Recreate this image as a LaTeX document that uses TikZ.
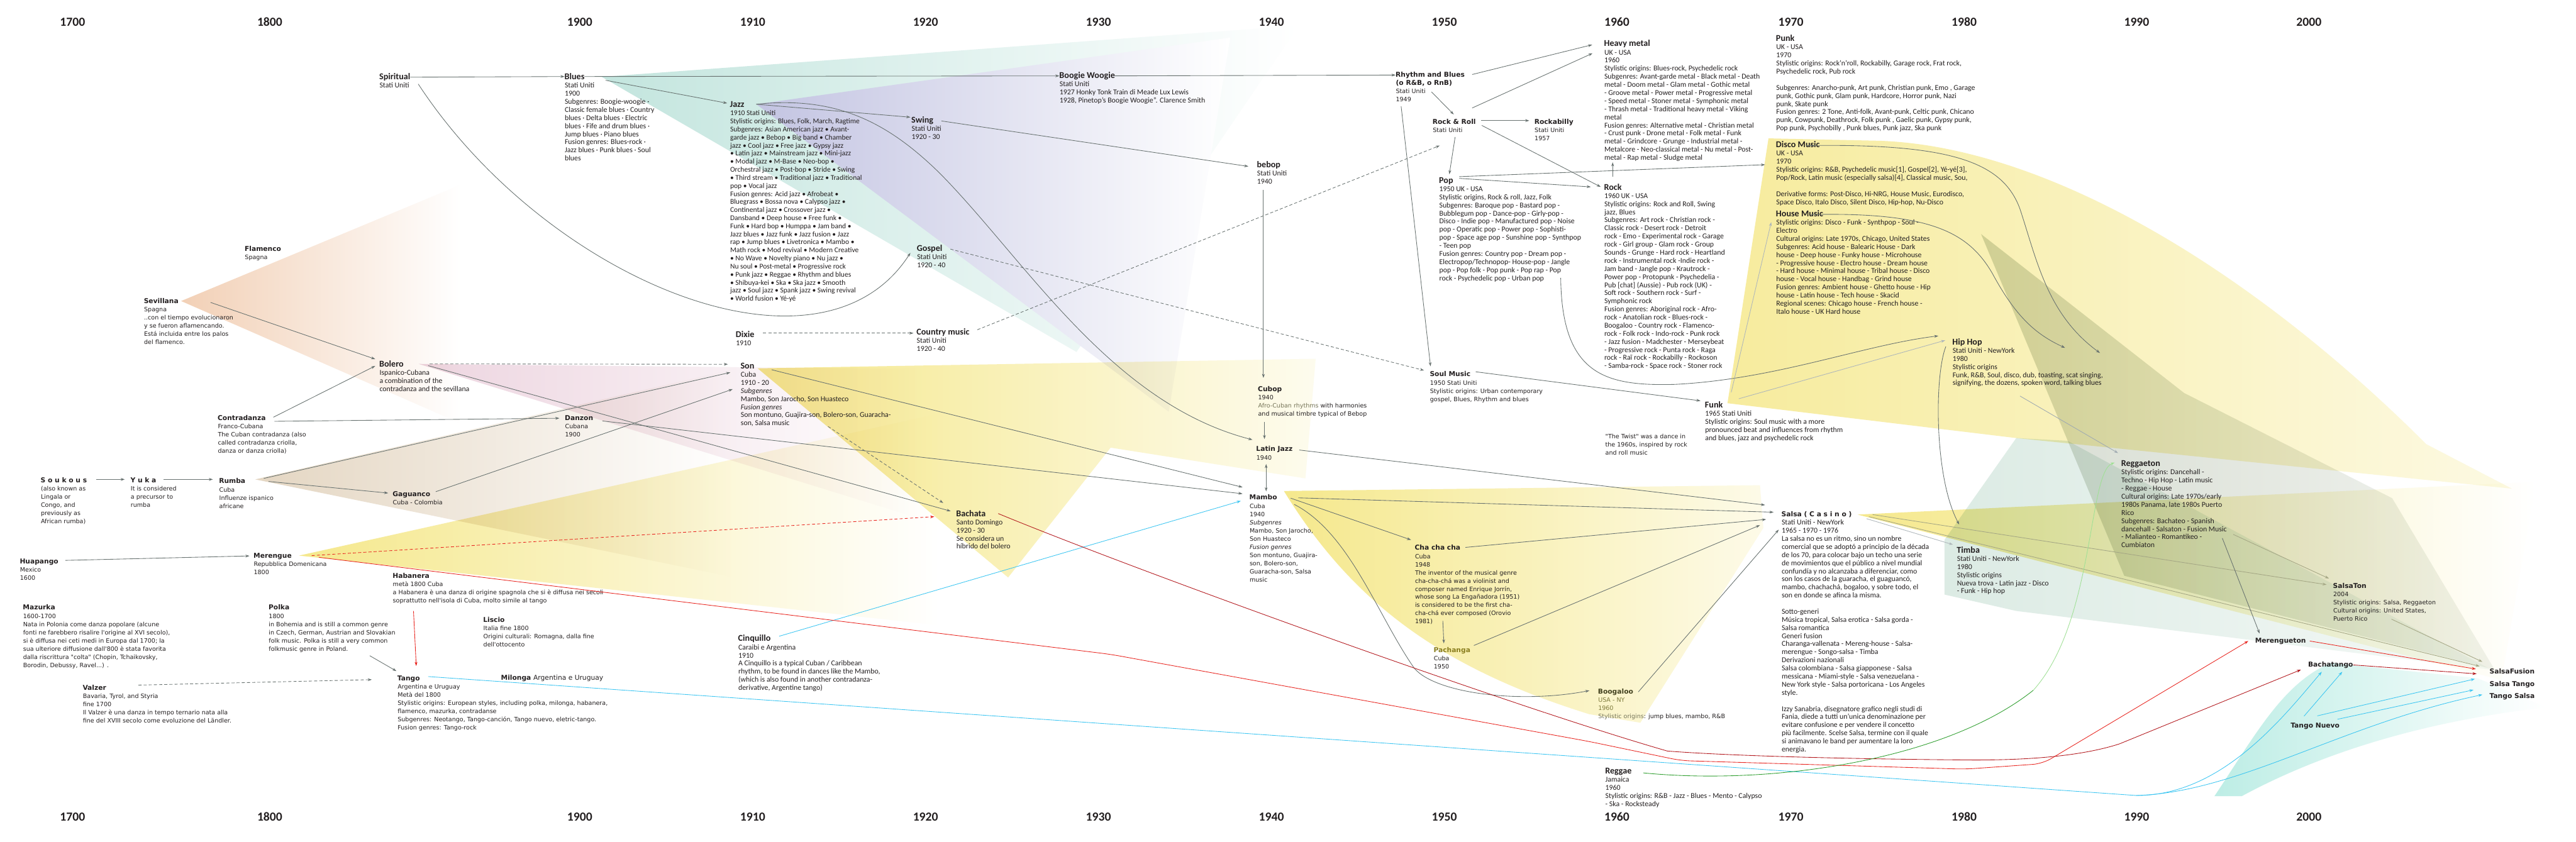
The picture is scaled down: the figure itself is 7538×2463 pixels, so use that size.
\documentclass[tikz,border=0pt]{standalone}
\usepackage{fontspec}
\setmainfont{Carlito}
\newfontfamily\widefam{DejaVu Sans}
\usetikzlibrary{arrows.meta}
\definecolor{txt}{HTML}{231F20}
\definecolor{cline}{HTML}{67716F}
\definecolor{redc}{HTML}{E8241E}
\definecolor{dredc}{HTML}{B2151A}
\definecolor{cyanc}{HTML}{3CC6F2}
\definecolor{greenc}{HTML}{2E9E2E}
\definecolor{lgreenc}{HTML}{9FE095}
\definecolor{olivel}{HTML}{A4A684}
\definecolor{bluegc}{HTML}{9FAAB1}
\definecolor{lgrayc}{HTML}{AEB6BA}
\definecolor{oliveT}{HTML}{8A7E1E}
\definecolor{oliveD}{HTML}{43421F}
\definecolor{oliveM}{HTML}{7E7A3C}
\definecolor{cubopc}{HTML}{77765A}
\definecolor{peachc}{HTML}{F2D0B6}
\definecolor{tealc}{HTML}{C3E5DE}
\definecolor{purpc}{HTML}{C3C4E2}
\definecolor{pinkc}{HTML}{EDD5E0}
\definecolor{tanc}{HTML}{E4D6C2}
\definecolor{yelc}{HTML}{F5E88C}
\definecolor{wedgec}{HTML}{D6DCD1}
\definecolor{timbac}{HTML}{DCEBE4}
\definecolor{tealb}{HTML}{BDEDE5}
\newcommand\gR{\fontsize{6.2}{6.74}\selectfont}
\newcommand\gJ{\fontsize{6.05}{6.71}\selectfont}
\newcommand\gT{\fontsize{7.4}{6.74}\selectfont\bfseries}
\newcommand\wR{\widefam\fontsize{5}{6.79}\selectfont}
\newcommand\wT{\widefam\fontsize{5.6}{6.79}\selectfont\bfseries}
\newcommand\yrF{\fontsize{10.3}{12}\selectfont\bfseries}
\begin{document}
\begin{tikzpicture}[x=0.01cm,y=-0.01cm,
 gt/.style={anchor=base west,inner sep=0pt,outer sep=0pt,text=txt,font=\gT},
 wt/.style={anchor=base west,inner sep=0pt,outer sep=0pt,text=txt,font=\wT},
 gb/.style={anchor=north west,inner sep=0pt,align=left,text=txt,font=\gR},
 wb/.style={anchor=north west,inner sep=0pt,align=left,text=txt,font=\wR},
 yr/.style={anchor=base west,inner sep=0pt,text=txt,font=\yrF},
 ln/.style={draw=cline,line width=0.45pt},
 arr/.style={ln,-{Stealth[length=3.4pt,width=2.3pt]}},
 dsh/.style={dash pattern=on 2.6pt off 1.7pt},
 redl/.style={draw=redc},
 dredl/.style={draw=dredc},
 cyanl/.style={draw=cyanc},
 olivell/.style={draw=olivel},
 bgl/.style={draw=bluegc},
 lgl/.style={draw=lgrayc},
 fan/.style={blend mode=multiply}]
\useasboundingbox (0,0) rectangle (7538,2463);
\fill[white] (0,0) rectangle (7538,2463);

% ---------------- fans ----------------
\shade[fan,left color=peachc,right color=white] (530,881) -- (1350,540) -- (1350,1240) -- cycle;
\shade[fan,left color=tealc,right color=white] (1761,225) -- (3800,75) -- (3150,1030) -- cycle;
\shade[left color=purpc,right color=white] (2213,305) -- (3600,110) -- (3420,1205) -- cycle;
\shade[fan,left color=tanc,right color=white] (747,1403) -- (2150,1080) -- (2150,1690) -- cycle;
\shade[fan,left color=pinkc,right color=white] (1225,1065) -- (2700,1080) -- (2700,1520) -- cycle;
\shade[fan,left color=yelc,right color=white] (875,1626) -- (2750,1210) -- (2750,1830) -- cycle;
\shade[fan,left color=yelc,right color=yelc!15] (2217,1078) -- (3850,1050) -- (3820,1400) -- (3250,1310) -- (2950,1690) -- cycle;
\shade[fan,left color=yelc,right color=yelc!20] (3757,1437) -- (5150,1420) -- (5160,1545) -- (4800,2115) -- (4650,2090) .. controls (4200,1950) and (3950,1750) .. (3757,1437) -- cycle;
\shade[fan,left color=yelc!85,right color=yelc!25] (5055,1180) -- (5175,405) -- (5500,412) .. controls (6000,430) and (6600,800) .. (7100,1300) -- (7350,1430) -- (5900,1282) -- cycle;
\shade[fan,left color=timbac,right color=timbac!30] (5690,1580) -- (5900,1282) -- (6050,1290) -- (7290,1960) -- (5900,1788) -- (5690,1740) -- cycle;
\shade[fan,left color=wedgec,right color=wedgec!35] (5797,685) -- (6391,1150) -- (7000,1458) -- (7300,1960) -- (6216,1685) -- (6013,1200) -- cycle;
\shade[fan,left color=yelc,right color=white] (5436,1506) -- (7420,1410) -- (7320,1990) -- cycle;
\shade[fan,left color=tealb,right color=white] (6480,2330) .. controls (6600,2150) and (6680,2000) .. (6820,1940) -- (7250,1985) -- (7450,2070) .. controls (7100,2110) and (6800,2200) .. (6560,2330) -- cycle;

% ---------------- years ----------------
\foreach \yy/\xx in {1700/175,1800/752,1900/1659,1910/2165,1920/2671,1930/3177,1940/3683,1950/4189,1960/4694,1970/5203,1980/5710,1990/6215,2000/6719}{
 \node[yr] (top\yy) at (\xx,76) {\yy};
 \node[yr] (bot\yy) at (\xx,2402) {\yy};
}

% ---------------- titles & bodies ----------------
\node[gt] (spiritual) at (1110,233) {Spiritual};
\node[gb] (spiritualB) at (1110,240) {\strut Stati Uniti};
\node[gt] (blues) at (1652,233) {Blues};
\node[gb] (bluesB) at (1652,240) {\strut Stati Uniti\\1900\\Subgenres: Boogie-woogie ·\\Classic female blues · Country\\blues · Delta blues · Electric\\blues · Fife and drum blues ·\\Jump blues · Piano blues\\Fusion genres: Blues-rock ·\\Jazz blues · Punk blues · Soul\\blues};
\node[gt] (boogie) at (3100,229) {Boogie Woogie};
\node[gb] (boogieB) at (3100,236) {\strut Stati Uniti\\1927 Honky Tonk Train di Meade Lux Lewis\\1928, Pinetop’s Boogie Woogie”. Clarence Smith};
\node[gt] (jazz) at (2136,314) {Jazz};
\node[gb,font=\gJ] (jazzB) at (2136,321) {\strut 1910 Stati Uniti\\Stylistic origins: Blues, Folk, March, Ragtime\\Subgenres: Asian American jazz • Avant-\\garde jazz • Bebop • Big band • Chamber\\jazz • Cool jazz • Free jazz • Gypsy jazz\\• Latin jazz • Mainstream jazz • Mini-jazz\\• Modal jazz • M-Base • Neo-bop •\\Orchestral jazz • Post-bop • Stride • Swing\\• Third stream • Traditional jazz • Traditional\\pop • Vocal jazz\\Fusion genres: Acid jazz • Afrobeat •\\Bluegrass • Bossa nova • Calypso jazz •\\Continental jazz • Crossover jazz •\\Dansband • Deep house • Free funk •\\Funk • Hard bop • Humppa • Jam band •\\Jazz blues • Jazz funk • Jazz fusion • Jazz\\rap • Jump blues • Livetronica • Mambo •\\Math rock • Mod revival • Modern Creative\\• No Wave • Novelty piano • Nu jazz •\\Nu soul • Post-metal • Progressive rock\\• Punk jazz • Reggae • Rhythm and blues\\• Shibuya-kei • Ska • Ska jazz • Smooth\\jazz • Soul jazz • Spank jazz • Swing revival\\• World fusion • Yé-yé};
\node[gt] (swing) at (2667,359) {Swing};
\node[gb] (swingB) at (2667,366) {\strut Stati Uniti\\1920 - 30};
\node[gt] (gospel) at (2683,735) {Gospel};
\node[gb] (gospelB) at (2683,742) {\strut Stati Uniti\\1920 - 40};
\node[gt] (dixie) at (2153,987) {Dixie};
\node[gb] (dixieB) at (2153,994) {\strut 1910};
\node[gt] (country) at (2682,980) {Country music};
\node[gb] (countryB) at (2682,987) {\strut Stati Uniti\\1920 - 40};
\node[gt] (son) at (2167,1079) {Son};
\node[gb] (sonB) at (2167,1086) {\strut Cuba\\1910 - 20\\\textit{Subgenres}\\Mambo, Son Jarocho, Son Huasteco\\\textit{Fusion genres}\\Son montuno, Guajira-son, Bolero-son, Guaracha-\\son, Salsa music};
\node[gt] (bebop) at (3678,490) {bebop};
\node[gb] (bebopB) at (3678,497) {\strut Stati Uniti\\1940};

\node[wt] (flamenco) at (716,735) {Flamenco};
\node[wb] (flamencoB) at (716,742) {\strut Spagna};
\node[wt] (sevillana) at (421,888) {Sevillana};
\node[wb] (sevillanaB) at (421,895) {\strut Spagna\\..con el tiempo evolucionaron\\y se fueron aflamencando.\\Está incluida entre los palos\\del flamenco.};
\node[wt] (contradanza) at (637,1230) {Contradanza};
\node[wb] (contradanzaB) at (637,1237) {\strut Franco-Cubana\\The Cuban contradanza (also\\called contradanza criolla,\\danza or danza criolla)};
\node[gt] (bolero) at (1110,1073) {Bolero};
\node[gb] (boleroB) at (1110,1080) {\strut Ispanico-Cubana\\a combination of the\\contradanza and the sevillana};
\node[wt] (soukous) at (119,1412) {S o u k o u s};
\node[wb] (soukousB) at (119,1419) {\strut (also known as\\Lingala or\\Congo, and\\previously as\\African rumba)};
\node[wt] (yuka) at (382,1412) {Y u k a};
\node[wb] (yukaB) at (382,1419) {\strut It is considered\\a precursor to\\rumba};
\node[wt] (rumba) at (641,1415) {Rumba};
\node[wb] (rumbaB) at (641,1422) {\strut Cuba\\Influenze ispanico\\africane};
\node[wt] (huapango) at (58,1650) {Huapango};
\node[wb] (huapangoB) at (58,1657) {\strut Mexico\\1600};
\node[wt] (merengue) at (742,1633) {Merengue};
\node[wb] (merengueB) at (742,1640) {\strut Repubblica Domenicana\\1800};
\node[wt] (mazurka) at (67,1785) {Mazurka};
\node[wb] (mazurkaB) at (67,1792) {\strut 1600-1700\\Nata in Polonia come danza popolare (alcune\\fonti ne farebbero risalire l'origine al XVI secolo),\\si è diffusa nei ceti medi in Europa dal 1700; la\\sua ulteriore diffusione dall'800 è stata favorita\\dalla riscrittura "colta" (Chopin, Tchaikovsky,\\Borodin, Debussy, Ravel...) .};
\node[wt] (polka) at (786,1785) {Polka};
\node[wb] (polkaB) at (786,1792) {\strut 1800\\in Bohemia and is still a common genre\\in Czech, German, Austrian and Slovakian\\folk music. Polka is still a very common\\folkmusic genre in Poland.};
\node[wt] (valzer) at (242,2020) {Valzer};
\node[wb] (valzerB) at (242,2027) {\strut Bavaria, Tyrol, and Styria\\fine 1700\\Il Valzer è una danza in tempo ternario nata alla\\fine del XVIII secolo come evoluzione del Ländler.};
\node[wt] (danzon) at (1653,1230) {Danzon};
\node[wb] (danzonB) at (1653,1237) {\strut Cubana\\1900};
\node[wt] (gaguanco) at (1149,1452) {Gaguanco};
\node[wb] (gaguancoB) at (1149,1459) {\strut Cuba - Colombia};
\node[wt] (habanera) at (1149,1692) {Habanera};
\node[wb] (habaneraB) at (1149,1699) {\strut metà 1800 Cuba\\a Habanera è una danza di origine spagnola che si è diffusa nei secoli\\soprattutto nell'isola di Cuba, molto simile al tango};
\node[wt] (liscio) at (1414,1821) {Liscio};
\node[wb] (liscioB) at (1414,1828) {\strut Italia fine 1800\\Origini culturali: Romagna, dalla fine\\dell'ottocento};
\node[wt] (tango) at (1163,1992) {Tango};
\node[wb] (tangoB) at (1163,1999) {\strut Argentina e Uruguay\\Metà del 1800\\Stylistic origins: European styles, including polka, milonga, habanera,\\flamenco, mazurka, contradanse\\Subgenres: Neotango,  Tango-canción, Tango nuevo, eletric-tango.\\Fusion genres: Tango-rock};
\node[wt] (milonga) at (1466,1991) {Milonga {\mdseries Argentina e Uruguay}};
\node[gt] (bachata) at (2798,1511) {Bachata};
\node[gb] (bachataB) at (2798,1518) {\strut Santo Domingo\\1920 - 30\\Se considera un\\híbrido del bolero};
\node[gt] (cinquillo) at (2160,1877) {Cinquillo};
\node[gb] (cinquilloB) at (2160,1884) {\strut Caraibi e Argentina\\1910\\A Cinquillo is a typical Cuban / Caribbean\\rhythm, to be found in dances like the Mambo,\\(which is also found in another contradanza-\\derivative, Argentine tango)};
\node[wt] (cubop) at (3681,1146) {Cubop};
\node[wb] (cubopB) at (3681,1153) {\strut 1940\\\textcolor{cubopc}{Afro-Cuban rhythms} with harmonies\\and musical timbre typical of Bebop};
\node[wt] (latinjazz) at (3676,1321) {Latin Jazz};
\node[wb] (latinjazzB) at (3676,1328) {\strut 1940};
\node[wt] (mambo) at (3656,1463) {Mambo};
\node[wb] (mamboB) at (3656,1470) {\strut Cuba\\1940\\\textit{Subgenres}\\Mambo, Son Jarocho,\\Son Huasteco\\\textit{Fusion genres}\\Son montuno, Guajira-\\son, Bolero-son,\\Guaracha-son, Salsa\\music};
\node[wt] (chacha) at (4140,1610) {Cha cha cha};
\node[wb] (chachaB) at (4140,1617) {\strut Cuba\\1948\\The inventor of the musical genre\\cha-cha-chá was a violinist and\\composer named Enrique Jorrín,\\whose song La Engañadora (1951)\\is considered to be the first cha-\\cha-chá ever composed (Orovio\\1981)};
\node[wt,text=oliveT] (pachanga) at (4195,1909) {Pachanga};
\node[wb] (pachangaB) at (4195,1916) {\strut Cuba\\1950};
\node[wt] (soul) at (4184,1102) {Soul Music};
\node[wb] (soulB) at (4184,1109) {\strut 1950 Stati Uniti\\Stylistic origins: Urban contemporary\\gospel, Blues, Rhythm and blues};
\node[wt] (rnb) at (4084,225) {Rhythm and Blues};
\node[wb] (rnbB) at (4084,232) {\strut{\wT (o R\&B, o RnB)}\\Stati Uniti\\1949};
\node[wt] (rockroll) at (4192,363) {Rock \& Roll};
\node[wb] (rockrollB) at (4192,370) {\strut Stati Uniti};
\node[wt] (rockabilly) at (4490,363) {Rockabilly};
\node[wb] (rockabillyB) at (4490,370) {\strut Stati Uniti\\1957};
\node[gt] (pop) at (4211,536) {Pop};
\node[gb] (popB) at (4211,543) {\strut 1950 UK - USA\\Stylistic origins, Rock \& roll, Jazz, Folk\\Subgenres: Baroque pop - Bastard pop -\\Bubblegum pop - Dance-pop - Girly-pop -\\Disco - Indie pop - Manufactured pop - Noise\\pop - Operatic pop - Power pop - Sophisti-\\pop - Space age pop - Sunshine pop - Synthpop\\- Teen pop\\Fusion genres: Country pop - Dream pop -\\Electropop/Technopop- House-pop - Jangle\\pop - Pop folk - Pop punk - Pop rap - Pop\\rock - Psychedelic pop - Urban pop};
\node[gt] (heavymetal) at (4694,136) {Heavy metal};
\node[gb] (heavymetalB) at (4694,143) {\strut UK - USA\\1960\\Stylistic origins: Blues-rock, Psychedelic rock\\Subgenres: Avant-garde metal - Black metal - Death\\metal - Doom metal - Glam metal - Gothic metal\\- Groove metal - Power metal - Progressive metal\\- Speed metal - Stoner metal - Symphonic metal\\- Thrash metal - Traditional heavy metal - Viking\\metal\\Fusion genres:  Alternative metal - Christian metal\\- Crust punk - Drone metal - Folk metal - Funk\\metal - Grindcore - Grunge - Industrial metal -\\Metalcore - Neo-classical metal - Nu metal - Post-\\metal - Rap metal - Sludge metal};
\node[gt] (rock) at (4694,556) {Rock};
\node[gb] (rockB) at (4694,563) {\strut 1960 UK - USA\\Stylistic origins: Rock and Roll, Swing\\jazz, Blues\\Subgenres: Art rock - Christian rock -\\Classic rock - Desert rock - Detroit\\rock - Emo - Experimental rock - Garage\\rock - Girl group - Glam rock - Group\\Sounds - Grunge - Hard rock - Heartland\\rock - Instrumental rock -Indie rock -\\Jam band - Jangle pop - Krautrock -\\Power pop - Protopunk - Psychedelia -\\Pub [chat] (Aussie) - Pub rock (UK) -\\Soft rock - Southern rock - Surf -\\Symphonic rock\\Fusion genres: Aboriginal rock - Afro-\\rock - Anatolian rock - Blues-rock -\\Boogaloo - Country rock - Flamenco-\\rock - Folk rock - Indo-rock - Punk rock\\- Jazz fusion - Madchester - Merseybeat\\- Progressive rock - Punta rock - Raga\\rock - Raï rock - Rockabilly - Rockoson\\- Samba-rock - Space rock - Stoner rock};
\node[gt] (funk) at (4989,1193) {Funk};
\node[gb] (funkB) at (4989,1200) {\strut 1965 Stati Uniti\\Stylistic origins: Soul music with a more\\pronounced beat and influences from rhythm\\and blues, jazz and psychedelic rock};
\node[wb] (twist) at (4697,1267) {\strut "The Twist" was a dance in\\the 1960s, inspired by rock\\and roll music};
\node[wt] (salsa) at (5213,1512) {Salsa ( C a s i n o )};
\node[gb] (salsaB) at (5213,1519) {\strut Stati Uniti - NewYork\\1965 - 1970 - 1976\\La salsa no es un ritmo, sino un nombre\\comercial que se adoptó a principio de la década\\de los 70, para colocar bajo un techo una serie\\de movimientos que el público a nivel mundial\\confundía y no alcanzaba a diferenciar, como\\son los casos de la guaracha, el guaguancó,\\mambo, chachachá, bogaloo, y sobre todo, el\\son en donde se afinca la misma.\\ \strut\\Sotto-generi\\Música tropical, Salsa erotica - Salsa gorda -\\Salsa romantica\\Generi fusion\\Charanga-vallenata - Mereng-house - Salsa-\\merengue - Songo-salsa - Timba\\Derivazioni nazionali\\Salsa colombiana - Salsa giapponese - Salsa\\messicana - Miami-style - Salsa venezuelana -\\New York style - Salsa portoricana - Los Angeles\\style.\\ \strut\\Izzy Sanabria, disegnatore grafico negli studi di\\Fania, diede a tutti un'unica denominazione per\\evitare confusione e per vendere il concetto\\più facilmente. Scelse Salsa, termine con il quale\\si animavano le band per aumentare la loro\\energia.};
\node[gt] (timba) at (5726,1618) {Timba};
\node[gb] (timbaB) at (5726,1625) {\strut Stati Uniti - NewYork\\1980\\Stylistic origins\\Nueva trova - Latin jazz - Disco\\- Funk - Hip hop};
\node[wt,text=oliveD] (boogaloo) at (4676,2031) {Boogaloo};
\node[wb] (boogalooB) at (4676,2038) {\strut\textcolor{oliveM}{USA - NY}\\\textcolor{oliveM}{1960}\\\textcolor{cubopc}{Stylistic origins}: jump blues, mambo, R\&B};
\node[gt] (reggae) at (4697,2265) {Reggae};
\node[gb] (reggaeB) at (4697,2272) {\strut Jamaica\\1960\\Stylistic origins: R\&B - Jazz - Blues - Mento - Calypso\\- Ska - Rocksteady};
\node[gt] (punk) at (5197,121) {Punk};
\node[gb] (punkB) at (5197,128) {\strut UK - USA\\1970\\Stylistic origins: Rock'n'roll, Rockabilly, Garage rock, Frat rock,\\Psychedelic rock, Pub rock\\ \strut\\Subgenres: Anarcho-punk, Art punk, Christian punk, Emo , Garage\\punk, Gothic punk, Glam punk, Hardcore, Horror punk, Nazi\\punk, Skate punk\\Fusion genres: 2 Tone, Anti-folk, Avant-punk, Celtic punk, Chicano\\punk, Cowpunk, Deathrock, Folk punk , Gaelic punk, Gypsy punk,\\Pop punk, Psychobilly , Punk blues, Punk jazz, Ska punk};
\node[gt] (disco) at (5197,432) {Disco Music};
\node[gb] (discoB) at (5197,439) {\strut UK - USA\\1970\\Stylistic origins: R\&B, Psychedelic music[1], Gospel[2], Yé-yé[3],\\Pop/Rock, Latin music (especially salsa)[4], Classical music, Sou,\\ \strut\\Derivative forms: Post-Disco, Hi-NRG, House Music, Eurodisco,\\Space Disco, Italo Disco, Silent Disco, Hip-hop, Nu-Disco};
\node[gt] (house) at (5197,634) {House Music};
\node[gb] (houseB) at (5197,641) {\strut Stylistic origins: Disco - Funk - Synthpop - Soul -\\Electro\\Cultural origins: Late 1970s, Chicago, United States\\Subgenres: Acid house - Balearic House - Dark\\house - Deep house - Funky house - Microhouse\\- Progressive house - Electro house - Dream house\\- Hard house - Minimal house - Tribal house - Disco\\house - Vocal house - Handbag - Grind house\\Fusion genres: Ambient house - Ghetto house - Hip\\house - Latin house - Tech house - Skacid\\Regional scenes: Chicago house - French house -\\Italo house - UK Hard house};
\node[gt] (hiphop) at (5713,1009) {Hip Hop};
\node[gb] (hiphopB) at (5713,1016) {\strut Stati Uniti - NewYork\\1980\\Stylistic origins\\Funk, R\&B, Soul, disco, dub, toasting, scat singing,\\signifying, the dozens, spoken word, talking blues};
\node[gt] (reggaeton) at (6207,1365) {Reggaeton};
\node[gb] (reggaetonB) at (6207,1372) {\strut Stylistic origins:  Dancehall -\\Techno - Hip Hop - Latin music\\- Reggae - House\\Cultural origins: Late 1970s/early\\1980s Panama, late 1980s Puerto\\Rico\\Subgenres:  Bachateo - Spanish\\dancehall - Salsaton - Fusion Music\\- Malianteo - Romantikeo -\\Cumbiaton};
\node[wt] (salsaton) at (6827,1722) {SalsaTon};
\node[wb] (salsatonB) at (6827,1729) {\strut 2004\\Stylistic origins: Salsa, Reggaeton\\Cultural origins:  United States,\\Puerto Rico};
\node[wt] (merengueton) at (6599,1882) {Merengueton};
\node[wt] (bachatango) at (6754,1951) {Bachatango};
\node[wt] (tangonuevo) at (6703,2131) {Tango Nuevo};
\node[wt] (salsafusion) at (7285,1972) {SalsaFusion};
\node[wt] (salsatango) at (7285,2008) {Salsa Tango};
\node[wt] (tangosalsa) at (7285,2043) {Tango Salsa};

% ---------------- connectors ----------------
\draw[arr] (spiritual.east) -- (blues.west);
\draw[arr] ([shift={(114,13)}]spiritual.base west) .. controls (1600,820) and (2400,1150) .. ([shift={(-19,5)}]gospel.base west);
\draw[arr] (blues.east) -- (boogie.west);
\draw[arr] ([shift={(120,2)}]blues.base west) -- ([shift={(-8,-12)}]jazz.base west);
\draw[arr] (boogie.east) -- (rnb.west);
\draw[arr] ([shift={(77,-9)}]jazz.base west) -- ([shift={(-3,-16)}]swing.base west);
\draw[arr] ([shift={(77,-9)}]jazz.base west) .. controls (2450,280) and (2600,360) .. (2750,507) .. controls (3000,760) and (3250,1180) .. ([shift={(-11,-34)}]latinjazz.base west);
\draw[arr] ([shift={(88,-5)}]swing.base west) -- ([shift={(-25,-3)}]bebop.base west);
\draw[arr] ([shift={(19,65)}]bebop.base west) -- ([shift={(16,-40)}]cubop.base west);
\draw[arr] ([shift={(19,89)}]cubop.base west) -- ([shift={(24,-36)}]latinjazz.base west);
\draw[ln,{Stealth[length=3.4pt,width=2.3pt]}-{Stealth[length=3.4pt,width=2.3pt]}] ([shift={(29,37)}]latinjazz.base west) -- ([shift={(49,-25)}]mambo.base west);
\draw[arr] ([shift={(126,-4)}]latinjazz.base west) -- ([shift={(-48,-34)}]salsa.base west);
\draw[arr] ([shift={(143,-6)}]mambo.base west) -- ([shift={(-23,-13)}]salsa.base west);
\draw[arr] ([shift={(121,-5)}]mambo.base west) -- ([shift={(-11,-30)}]chacha.base west);
\draw[arr] ([shift={(131,13)}]mambo.base west) .. controls (3950,1560) and (4030,1800) .. (4138,1955) .. controls (4200,2030) and (4450,2060) .. ([shift={(-25,-10)}]boogaloo.base west);
\draw[arr] ([shift={(148,-8)}]chacha.base west) -- ([shift={(-45,8)}]salsa.base west);
\draw[arr] ([shift={(82,207)}]chacha.base west) -- ([shift={(30,-26)}]pachanga.base west);
\draw[arr] ([shift={(118,-20)}]pachanga.base west) -- ([shift={(-63,25)}]salsa.base west);
\draw[arr] ([shift={(118,-6)}]boogaloo.base west) -- ([shift={(-8,38)}]salsa.base west);
\draw[arr] ([shift={(91,3)}]son.base west) -- ([shift={(-20,-37)}]mambo.base west);
\draw[arr] ([shift={(110,2)}]danzon.base west) -- ([shift={(-20,-18)}]mambo.base west);
\draw[arr,cyanl] ([shift={(120,-15)}]cinquillo.base west) -- ([shift={(-25,3)}]mambo.base west);
\draw[arr,dsh] ([shift={(256,169)}]son.base west) -- ([shift={(-38,-39)}]bachata.base west);
\draw[arr] ([shift={(143,-3)}]bolero.base west) -- ([shift={(-16,-15)}]bachata.base west);
\draw[arr,dsh] ([shift={(147,-8)}]bolero.base west) -- ([shift={(-37,-13)}]son.base west);
\draw[arr] ([shift={(195,-3)}]sevillana.base west) -- ([shift={(-12,-22)}]bolero.base west);
\draw[arr] ([shift={(163,-9)}]contradanza.base west) -- ([shift={(-12,-2)}]bolero.base west);
\draw[arr] ([shift={(166,3)}]contradanza.base west) -- ([shift={(-16,-6)}]danzon.base west);
\draw[arr] ([shift={(131,-15)}]rumba.base west) -- ([shift={(-30,11)}]son.base west);
\draw[arr] ([shift={(145,-6)}]rumba.base west) -- ([shift={(-13,-9)}]gaguanco.base west);
\draw[arr] ([shift={(126,-13)}]gaguanco.base west) -- ([shift={(-23,60)}]son.base west);
\draw[arr] ([shift={(162,-9)}]soukous.base west) -- ([shift={(-17,-9)}]yuka.base west);
\draw[arr] ([shift={(97,-9)}]yuka.base west) -- ([shift={(-18,-12)}]rumba.base west);
\draw[arr] ([shift={(133,-10)}]huapango.base west) -- ([shift={(-12,-6)}]merengue.base west);
\draw[arr,redl,dsh] ([shift={(170,-7)}]merengue.base west) -- ([shift={(-64,1)}]bachata.base west);
\draw[arr,redl,rounded corners=8pt] ([shift={(191,-2)}]merengue.base west) -- (3250,1915) -- (4650,2170) -- (4919,2226) -- (5750,2251) -- (5977,2235) -- ([shift={(-20,-6)}]merengueton.base west);
\draw[arr,dredl] ([shift={(123,-8)}]bachata.base west) .. controls (3300,1660) and (4400,2060) .. (4879,2198) .. controls (5100,2215) and (5500,2222) .. (5750,2224) .. controls (5950,2226) and (6100,2210) .. (6202,2177) -- ([shift={(-21,9)}]bachatango.base west);
\coordinate (tsplit) at (6250,2328);
\draw[ln,cyanl] ([shift={(90,-12)}]tango.base west) -- (5750,2293) -- (tsplit);
\draw[arr,cyanl] (tsplit) .. controls (6500,2330) and (6680,2100) .. ([shift={(40,15)}]bachatango.base west);
\draw[arr,cyanl] (tsplit) .. controls (6550,2320) and (6850,2120) .. ([shift={(-21,-10)}]tangosalsa.base west);
\draw[arr,cyanl] ([shift={(39,-35)}]tangonuevo.base west) -- ([shift={(100,15)}]bachatango.base west);
\draw[arr,cyanl] ([shift={(78,-36)}]tangonuevo.base west) -- ([shift={(-43,-21)}]salsatango.base west);
\draw[arr,cyanl] ([shift={(137,-26)}]tangonuevo.base west) -- ([shift={(-47,-24)}]tangosalsa.base west);
\draw[arr,redl] ([shift={(160,-6)}]merengueton.base west) -- ([shift={(-40,-14)}]salsafusion.base west);
\draw[arr,dredl] ([shift={(132,-5)}]bachatango.base west) -- ([shift={(-38,0)}]salsafusion.base west);
\draw[arr,olivell] ([shift={(171,90)}]salsaton.base west) -- ([shift={(-21,-35)}]salsafusion.base west);
\draw[arr,olivell] ([shift={(267,-6)}]salsa.base west) -- ([shift={(-19,-11)}]salsaton.base west);
\draw[arr,olivell] ([shift={(256,0)}]salsa.base west) -- ([shift={(-29,-22)}]salsafusion.base west);
\draw[arr,lgl] ([shift={(249,6)}]salsa.base west) -- ([shift={(-11,-24)}]timba.base west);
\draw[arr,olivell] ([shift={(328,199)}]reggaeton.base west) -- ([shift={(-12,-29)}]salsaton.base west);
\draw[arr] ([shift={(296,210)}]reggaeton.base west) -- ([shift={(13,-28)}]merengueton.base west);
\draw[arr,bgl] ([shift={(198,150)}]hiphop.base west) -- ([shift={(-9,-39)}]reggaeton.base west);
\coordinate (gmid) at (5950,2020);
\draw[ln,draw=greenc] ([shift={(112,-3)}]reggae.base west) .. controls (5200,2300) and (5700,2220) .. (gmid);
\draw[arr,draw=lgreenc] (gmid) .. controls (6130,1820) and (6110,1380) .. ([shift={(-19,-11)}]reggaeton.base west);
\draw[arr] ([shift={(224,-7)}]rnb.base west) -- ([shift={(-35,-5)}]heavymetal.base west);
\draw[arr] ([shift={(116,-47)}]rockroll.base west) -- ([shift={(-34,20)}]heavymetal.base west);
\draw[arr] ([shift={(105,44)}]rnb.base west) -- ([shift={(62,-28)}]rockroll.base west);
\draw[arr] ([shift={(16,86)}]rnb.base west) -- ([shift={(2,-30)}]soul.base west);
\draw[arr] ([shift={(142,-10)}]rockroll.base west) -- ([shift={(-15,-10)}]rockabilly.base west);
\draw[arr] ([shift={(144,4)}]rockroll.base west) -- ([shift={(-10,-9)}]rock.base west);
\draw[arr] ([shift={(66,38)}]rockroll.base west) -- ([shift={(30,-26)}]pop.base west);
\draw[arr,dsh] ([shift={(178,-15)}]country.base west) -- ([shift={(21,63)}]rockroll.base west);
\draw[arr,dsh] ([shift={(98,-6)}]gospel.base west) -- ([shift={(-17,-18)}]soul.base west);
\draw[arr,dsh] ([shift={(80,-12)}]dixie.base west) -- ([shift={(-9,-5)}]country.base west);
\draw[arr] ([shift={(59,-14)}]pop.base west) -- ([shift={(-39,-9)}]rock.base west);
\draw[arr] ([shift={(59,-19)}]pop.base west) -- ([shift={(-32,50)}]disco.base west);
\draw[arr] ([shift={(25,-38)}]rock.base west) -- ([shift={(25,339)}]heavymetal.base west);
\draw[arr] ([shift={(356,277)}]pop.base west) .. controls (4570,1100) and (4700,1130) .. (4900,1125) .. controls (5200,1110) and (5450,1010) .. ([shift={(-41,-26)}]hiphop.base west);
\draw[arr,lgl] ([shift={(99,-26)}]funk.base west) -- ([shift={(-21,-13)}]hiphop.base west);
\draw[arr] ([shift={(134,-14)}]soul.base west) -- ([shift={(-13,-20)}]funk.base west);
\draw[arr,lgl] ([shift={(77,-45)}]funk.base west) -- ([shift={(-14,16)}]house.base west);
\draw[arr] ([shift={(88,-6)}]disco.base west) .. controls (5700,420) and (5860,470) .. (5911,612) .. controls (5960,760) and (5990,920) .. ([shift={(432,24)}]hiphop.base west);
\draw[arr] ([shift={(100,-6)}]house.base west) .. controls (5650,620) and (5760,680) .. (5830,800) .. controls (5900,930) and (5960,980) .. ([shift={(330,9)}]hiphop.base west);
\draw[arr] ([shift={(-19,5)}]hiphop.base west) .. controls (5660,1100) and (5660,1400) .. ([shift={(7,-83)}]timba.base west);
\draw[arr,redl] ([shift={(61,96)}]habanera.base west) -- ([shift={(55,-43)}]tango.base west);
\draw[arr] ([shift={(296,134)}]polka.base west) -- ([shift={(-3,-28)}]tango.base west);
\draw[arr,dsh] ([shift={(163,-15)}]valzer.base west) -- ([shift={(-75,-3)}]tango.base west);
\end{tikzpicture}
\end{document}
